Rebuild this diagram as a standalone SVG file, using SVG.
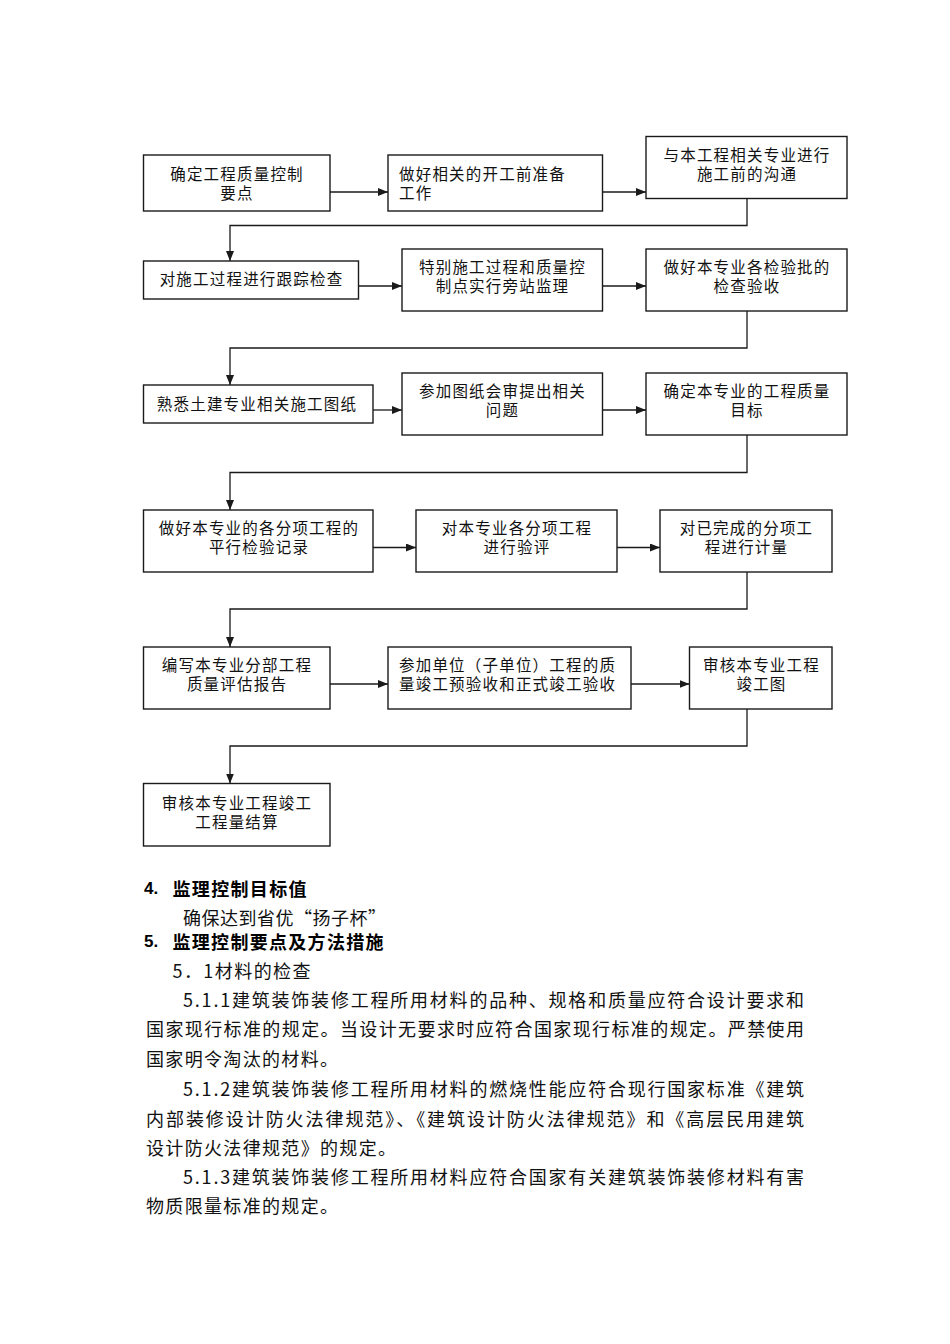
<svg xmlns="http://www.w3.org/2000/svg" width="950" height="1344" viewBox="0 0 950 1344">
<style>
.box{fill:#fff;stroke:#1a1a1a;stroke-width:1.4}
.bt{font-family:"Noto Sans CJK SC","Noto Sans",sans-serif;font-size:15.5px;letter-spacing:1.2px;fill:#111;dominant-baseline:central}
.c{text-anchor:middle}
.ln{fill:none;stroke:#1a1a1a;stroke-width:1.3}
.body{font-family:"Noto Sans CJK SC","Noto Sans",sans-serif;font-size:18px;fill:#111;dominant-baseline:central}
.hd{font-family:"Noto Sans CJK SC","Noto Sans",sans-serif;font-size:18px;font-weight:700;fill:#000;dominant-baseline:central}
.num{font-family:"Liberation Sans",Arial,sans-serif;font-size:17px;font-weight:700;fill:#000;dominant-baseline:central}
</style>
<defs>
<marker id="ah" markerUnits="userSpaceOnUse" markerWidth="10" markerHeight="8" refX="10" refY="4" orient="auto">
<path d="M0,0 L10,4 L0,8 z" fill="#1a1a1a"/>
</marker>
</defs>
<rect width="950" height="1344" fill="#fff"/>

<g id="connectors">
<line class="ln" x1="330" y1="192" x2="388" y2="192" marker-end="url(#ah)"/>
<line class="ln" x1="602.5" y1="192" x2="646" y2="192" marker-end="url(#ah)"/>
<polyline class="ln" points="747,198.5 747,225.5 230,225.5 230,261" marker-end="url(#ah)"/>
<line class="ln" x1="358.5" y1="286" x2="402" y2="286" marker-end="url(#ah)"/>
<line class="ln" x1="602.5" y1="286" x2="646" y2="286" marker-end="url(#ah)"/>
<polyline class="ln" points="747,311 747,348 230,348 230,385" marker-end="url(#ah)"/>
<line class="ln" x1="373" y1="410" x2="402" y2="410" marker-end="url(#ah)"/>
<line class="ln" x1="602.5" y1="410" x2="646" y2="410" marker-end="url(#ah)"/>
<polyline class="ln" points="747,435 747,472.5 230,472.5 230,510" marker-end="url(#ah)"/>
<line class="ln" x1="373" y1="547.5" x2="416" y2="547.5" marker-end="url(#ah)"/>
<line class="ln" x1="617" y1="547.5" x2="660" y2="547.5" marker-end="url(#ah)"/>
<polyline class="ln" points="747,572 747,609 230,609 230,647" marker-end="url(#ah)"/>
<line class="ln" x1="330" y1="684" x2="388" y2="684" marker-end="url(#ah)"/>
<line class="ln" x1="631" y1="684" x2="689.5" y2="684" marker-end="url(#ah)"/>
<polyline class="ln" points="747,709 747,746 230,746 230,783.5" marker-end="url(#ah)"/>
</g>

<g id="n1"><rect class="box" x="143.5" y="155" width="186.5" height="56"/>
<text class="bt c"><tspan x="237" y="172.5">确定工程质量控制</tspan><tspan x="237" y="191.5">要点</tspan></text></g>
<g id="n2"><rect class="box" x="388" y="155" width="214.5" height="56"/>
<text class="bt"><tspan x="399" y="172.5">做好相关的开工前准备</tspan><tspan x="399" y="191.5">工作</tspan></text></g>
<g id="n3"><rect class="box" x="646" y="136.5" width="201" height="62"/>
<text class="bt c"><tspan x="747" y="153.5">与本工程相关专业进行</tspan><tspan x="747" y="172.5">施工前的沟通</tspan></text></g>

<g id="n4"><rect class="box" x="143.5" y="261" width="215" height="38"/>
<text class="bt c" x="251.5" y="278">对施工过程进行跟踪检查</text></g>
<g id="n5"><rect class="box" x="402" y="249" width="200.5" height="62"/>
<text class="bt c"><tspan x="502.5" y="266">特别施工过程和质量控</tspan><tspan x="502.5" y="285">制点实行旁站监理</tspan></text></g>
<g id="n6"><rect class="box" x="646" y="249" width="201" height="62"/>
<text class="bt c"><tspan x="747" y="266">做好本专业各检验批的</tspan><tspan x="747" y="285">检查验收</tspan></text></g>

<g id="n7"><rect class="box" x="143.5" y="385" width="229.5" height="38"/>
<text class="bt c" x="257" y="403">熟悉土建专业相关施工图纸</text></g>
<g id="n8"><rect class="box" x="402" y="373" width="200.5" height="62"/>
<text class="bt c"><tspan x="502.5" y="389.5">参加图纸会审提出相关</tspan><tspan x="502.5" y="408.5">问题</tspan></text></g>
<g id="n9"><rect class="box" x="646" y="373" width="201" height="62"/>
<text class="bt c"><tspan x="747" y="389.5">确定本专业的工程质量</tspan><tspan x="747" y="408.5">目标</tspan></text></g>

<g id="n10"><rect class="box" x="143.5" y="510" width="229.5" height="62"/>
<text class="bt c"><tspan x="259" y="527">做好本专业的各分项工程的</tspan><tspan x="259" y="546">平行检验记录</tspan></text></g>
<g id="n11"><rect class="box" x="416" y="510" width="201" height="62"/>
<text class="bt c"><tspan x="517" y="527">对本专业各分项工程</tspan><tspan x="517" y="546">进行验评</tspan></text></g>
<g id="n12"><rect class="box" x="660" y="510" width="172" height="62"/>
<text class="bt c"><tspan x="746.5" y="527">对已完成的分项工</tspan><tspan x="746.5" y="546">程进行计量</tspan></text></g>

<g id="n13"><rect class="box" x="143.5" y="647" width="186.5" height="62"/>
<text class="bt c"><tspan x="237" y="663.5">编写本专业分部工程</tspan><tspan x="237" y="682.5">质量评估报告</tspan></text></g>
<g id="n14"><rect class="box" x="388" y="647" width="243" height="62"/>
<text class="bt"><tspan x="399" y="663.5">参加单位（子单位）工程的质</tspan><tspan x="399" y="682.5">量竣工预验收和正式竣工验收</tspan></text></g>
<g id="n15"><rect class="box" x="689.5" y="647" width="142.5" height="62"/>
<text class="bt c"><tspan x="761.5" y="663.5">审核本专业工程</tspan><tspan x="761.5" y="682.5">竣工图</tspan></text></g>

<g id="n16"><rect class="box" x="143.5" y="783.5" width="186.5" height="62.5"/>
<text class="bt c"><tspan x="237" y="801.5">审核本专业工程竣工</tspan><tspan x="237" y="820.5">工程量结算</tspan></text></g>

<g id="text">
<text class="num" x="144" y="888">4.</text>
<text class="hd" x="172.5" y="888" textLength="134" lengthAdjust="spacing">监理控制目标值</text>
<text class="body" x="183" y="917" textLength="203" lengthAdjust="spacing">确保达到省优“扬子杯”</text>
<text class="num" x="144" y="941">5.</text>
<text class="hd" x="172.5" y="941" textLength="211" lengthAdjust="spacing">监理控制要点及方法措施</text>
<text class="body" x="172.5" y="970" textLength="138" lengthAdjust="spacing">5．1材料的检查</text>
<text class="body" x="183" y="999" textLength="621" lengthAdjust="spacing">5.1.1建筑装饰装修工程所用材料的品种、规格和质量应符合设计要求和</text>
<text class="body" x="146" y="1028" textLength="658" lengthAdjust="spacing">国家现行标准的规定。当设计无要求时应符合国家现行标准的规定。严禁使用</text>
<text class="body" x="146" y="1058" textLength="192" lengthAdjust="spacing">国家明令淘汰的材料。</text>
<text class="body" x="183" y="1088" textLength="621" lengthAdjust="spacing">5.1.2建筑装饰装修工程所用材料的燃烧性能应符合现行国家标准《建筑</text>
<text class="body" x="146" y="1118" textLength="658" lengthAdjust="spacing">内部装修设计防火法律规范》、《建筑设计防火法律规范》和《高层民用建筑</text>
<text class="body" x="146" y="1147" textLength="250" lengthAdjust="spacing">设计防火法律规范》的规定。</text>
<text class="body" x="183" y="1176" textLength="621" lengthAdjust="spacing">5.1.3建筑装饰装修工程所用材料应符合国家有关建筑装饰装修材料有害</text>
<text class="body" x="146" y="1205" textLength="192" lengthAdjust="spacing">物质限量标准的规定。</text>
</g>
</svg>
